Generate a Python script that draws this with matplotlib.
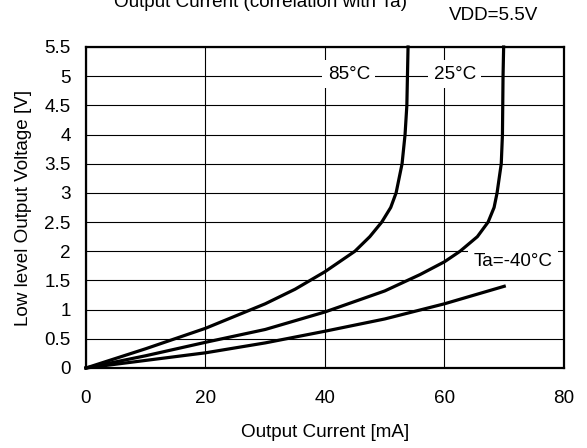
import matplotlib
matplotlib.use("Agg")
import matplotlib.pyplot as plt

plt.rcParams['font.family'] = ['Liberation Sans', 'DejaVu Sans']

# curves: current [mA], voltage [V]
i_85 = [0, 10, 20, 30, 35, 40, 45, 47.5, 49.5, 51, 51.9, 52.9, 53.4, 53.7, 53.8, 53.9]
v_85 = [0, 0.33, 0.68, 1.10, 1.35, 1.65, 2.0, 2.25, 2.5, 2.75, 3.0, 3.5, 4.0, 4.5, 5.0, 5.5]

i_25 = [0, 10, 20, 30, 40, 50, 55.9, 60, 62.6, 65.5, 67.3, 68.3, 68.8, 69.5, 69.7, 69.8, 69.9]
v_25 = [0, 0.21, 0.44, 0.66, 0.96, 1.32, 1.6, 1.82, 2.0, 2.25, 2.5, 2.75, 3.0, 3.5, 4.0, 5.0, 5.5]

i_m40 = [0, 10, 20, 30, 40, 50, 60, 70]
v_m40 = [0, 0.13, 0.26, 0.43, 0.63, 0.84, 1.10, 1.40]

x_ticks = [0, 20, 40, 60, 80]
y_ticks = [0, 0.5, 1, 1.5, 2, 2.5, 3, 3.5, 4, 4.5, 5, 5.5]
y_labels = ['0', '0.5', '1', '1.5', '2', '2.5', '3', '3.5', '4', '4.5', '5', '5.5']

fs = 13.6

fig = plt.figure(figsize=(5.87, 4.48), dpi=100)
ax = fig.add_axes([0.1465, 0.1786, 0.8143, 0.7165])

for xs, ys in [(i_85, v_85), (i_25, v_25), (i_m40, v_m40)]:
    ax.plot(xs, ys, color='black', lw=2.3, solid_joinstyle='round', clip_on=False, zorder=3)

ax.set_xlim(0, 80)
ax.set_ylim(0, 5.5)
ax.set_xticks(x_ticks)
ax.set_yticks(y_ticks)
ax.set_yticklabels(y_labels)
ax.tick_params(length=0, labelsize=fs)
ax.tick_params(axis='x', pad=16)
ax.tick_params(axis='y', pad=11)
ax.grid(True, color='black', lw=0.8)
ax.set_axisbelow(True)
for s in ax.spines.values():
    s.set_linewidth(1.6)

ax.set_xlabel('Output Current [mA]', fontsize=fs, labelpad=12)
ax.set_ylabel('Low level Output Voltage [V]', fontsize=fs, labelpad=9)

box = dict(facecolor='white', edgecolor='none', pad=4)
ax.text(44.0, 5.03, '85°C', fontsize=fs, ha='center', va='center', bbox=box, zorder=4)
ax.text(61.7, 5.03, '25°C', fontsize=fs, ha='center', va='center', bbox=box, zorder=4)
ax.text(71.5, 1.82, 'Ta=-40°C', fontsize=fs, ha='center', va='center', bbox=box, zorder=4)

# the title is cut by the top edge in the reference as well
fig.text(0.443, 1 - 7 / 448, 'Output Current (correlation with Ta)', fontsize=fs,
         ha='center', va='baseline')
fig.text(494 / 587, 1 - 15 / 448, 'VDD=5.5V', fontsize=fs, ha='center', va='center')

fig.savefig('out.png', dpi=100)
